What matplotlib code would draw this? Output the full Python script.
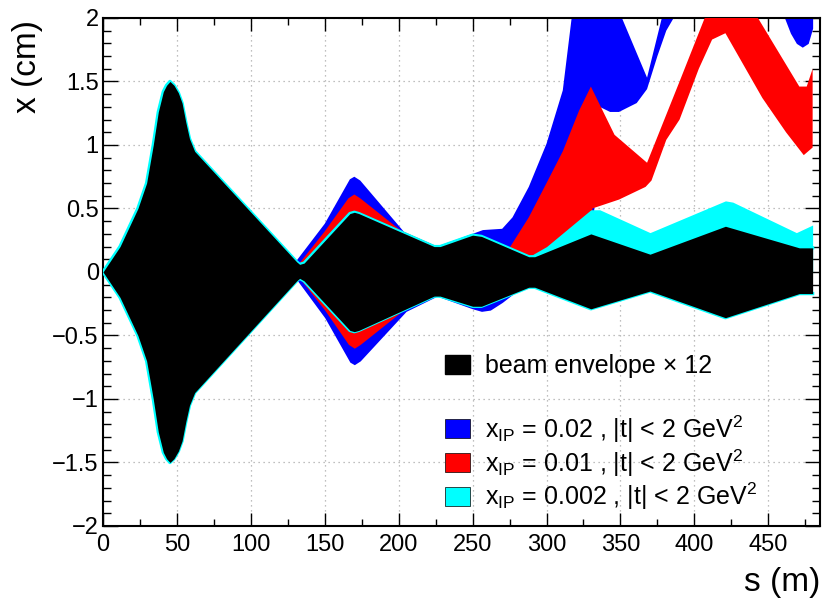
import numpy as np
import matplotlib.pyplot as plt
from matplotlib.patches import Patch
from matplotlib.ticker import MultipleLocator, FuncFormatter

plt.rcParams['font.family'] = ['Liberation Sans', 'DejaVu Sans']
plt.rcParams['mathtext.fontset'] = 'custom'
plt.rcParams['mathtext.rm'] = 'Liberation Sans'
plt.rcParams['mathtext.it'] = 'Liberation Sans:italic'
plt.rcParams['mathtext.bf'] = 'Liberation Sans:bold'

# beam envelope x 12 (black), upper and lower edge on a common s grid (m, cm)
black_s = [0, 11.5, 23.6, 29.5, 34, 37.4, 40.8, 43, 45.3, 48, 51, 53.5, 56, 58.5, 62,
           131, 133, 136, 167, 170, 173, 224, 228, 250, 256, 288, 292, 330, 370, 421, 471, 480]
black_hi = [0, 0.2, 0.5, 0.7, 1.0, 1.26, 1.42, 1.47, 1.5, 1.47, 1.41, 1.33, 1.18, 1.05, 0.95,
            0.08, 0.06, 0.07, 0.46, 0.47, 0.46, 0.2, 0.2, 0.29, 0.28, 0.12, 0.12, 0.3, 0.14, 0.36, 0.19, 0.19]
black_lo = [0, -0.2, -0.5, -0.7, -1.0, -1.26, -1.42, -1.47, -1.5, -1.47, -1.41, -1.33, -1.18, -1.05, -0.95,
            -0.07, -0.05, -0.07, -0.46, -0.47, -0.46, -0.19, -0.19, -0.27, -0.27, -0.12, -0.12, -0.29, -0.15, -0.36, -0.17, -0.17]

# x_IP = 0.002 (cyan), only separates from the envelope above s ~ 290 m
cyan_s = [288, 300, 330, 336, 370, 421, 426, 469, 480]
cyan_hi = [0.12, 0.2, 0.49, 0.49, 0.31, 0.56, 0.55, 0.31, 0.37]

# x_IP = 0.01 (red)
red_hi_s = [133, 150, 166, 170, 174, 201, 226, 250, 256, 275, 288, 300, 311, 322, 330,
            346, 368, 390, 407, 443, 471, 476, 480]
red_hi = [0.07, 0.32, 0.58, 0.61, 0.58, 0.33, 0.2, 0.29, 0.28, 0.19, 0.43, 0.7, 0.95, 1.27, 1.46,
          1.08, 0.86, 1.5, 2.0, 2.0, 1.46, 1.46, 1.6]
red_lo_s = [133, 331, 331, 349, 367, 371, 381, 390, 403, 412, 421, 446, 462, 474, 480]
red_lo = [0, 0, 0.5, 0.57, 0.67, 0.72, 1.04, 1.2, 1.6, 1.83, 1.88, 1.37, 1.1, 0.92, 0.98]
red_bot_s = [133, 150, 166, 170, 174, 201]
red_bot = [-0.05, -0.3, -0.57, -0.6, -0.57, -0.32]

# x_IP = 0.02 (blue)
blue_hi_s = [131, 150, 167, 170, 174, 204, 226, 250, 257, 270, 277, 288, 300, 311, 317,
             351, 368, 378, 386]
blue_hi = [0.09, 0.38, 0.73, 0.75, 0.72, 0.31, 0.2, 0.3, 0.33, 0.34, 0.43, 0.67, 1.01, 1.43, 2.0,
           2.0, 1.53, 2.0, 2.0]
blue_lo_s = [131, 330, 336, 343, 349, 361, 368, 375, 381, 386]
blue_lo = [0, 0, 1.3, 1.26, 1.26, 1.33, 1.44, 1.7, 1.9, 2.0]
blue_bot_s = [131, 150, 167, 170, 174, 205, 226, 250, 256, 262, 270, 280, 290]
blue_bot = [-0.06, -0.36, -0.71, -0.73, -0.7, -0.31, -0.19, -0.29, -0.31, -0.3, -0.24, -0.15, -0.12]
blue2_s = [461, 465, 469, 473, 477, 480]
blue2_lo = [2.0, 1.88, 1.8, 1.77, 1.8, 1.92]

BLUE, RED, CYAN = '#0000ff', '#ff0000', '#00ffff'

fig = plt.figure(figsize=(8.22, 6.03), dpi=100)
ax = fig.add_axes([0.1253, 0.1277, 0.8723, 0.8425])

# blue bands
ax.fill(blue_hi_s + blue_lo_s[::-1], blue_hi + blue_lo[::-1], color=BLUE, lw=0, zorder=2)
ax.fill_between(blue_bot_s, blue_bot, 0, color=BLUE, lw=0, zorder=2)
ax.fill_between(blue2_s, blue2_lo, 2.0, color=BLUE, lw=0, zorder=2)
# red bands
ax.fill(red_hi_s + red_lo_s[::-1], red_hi + red_lo[::-1], color=RED, lw=0, zorder=3)
ax.fill_between(red_bot_s, red_bot, 0, color=RED, lw=0, zorder=3)
# cyan band + outline of the envelope
ax.fill_between(cyan_s, 0, cyan_hi, color=CYAN, lw=0, zorder=4)
ax.plot(black_s, black_hi, color=CYAN, lw=2.4, zorder=5)
ax.plot(black_s, black_lo, color=CYAN, lw=2.4, zorder=5)
# beam envelope
ax.fill_between(black_s, black_lo, black_hi, color='black', lw=0, zorder=6)

ax.set_xlim(0, 485)
ax.set_ylim(-2, 2)
ax.xaxis.set_major_locator(MultipleLocator(50))
ax.xaxis.set_minor_locator(MultipleLocator(25))
ax.yaxis.set_major_locator(MultipleLocator(0.5))
ax.yaxis.set_minor_locator(MultipleLocator(0.1))
ax.yaxis.set_major_formatter(FuncFormatter(lambda v, p: ('%g' % (round(v, 3) + 0.0)).replace('-', '\u2212')))
ax.tick_params(which='both', direction='in', top=True, right=True, width=1, colors='black')
ax.tick_params(axis='x', which='major', length=9.5, pad=6, labelsize=17)
ax.tick_params(axis='x', which='minor', length=5)
ax.tick_params(axis='y', which='major', length=10.5, pad=3, labelsize=17)
ax.tick_params(axis='y', which='minor', length=5.5)
for sp in ax.spines.values():
    sp.set_linewidth(1.5)
ax.set_axisbelow(True)
ax.grid(True, which='major', color='#aaaaaa', linestyle=(0, (1, 3)), lw=0.9)

ax.set_xlabel('s (m)', fontsize=24, loc='right')
ax.xaxis.set_label_coords(1.0, -0.081)
ax.set_ylabel('x (cm)', fontsize=24, loc='top')
ax.yaxis.set_label_coords(-0.084, 0.996)

leg_kw = dict(loc='upper left', frameon=False, fontsize=18, handlelength=1.0, handleheight=0.79,
              handletextpad=0.6, borderpad=0, borderaxespad=0)
leg1 = ax.legend([Patch(facecolor='black', edgecolor='black')], ['beam envelope \u00d7 12'],
                 bbox_to_anchor=(0.477, 0.339), **leg_kw)
ax.add_artist(leg1)
ax.legend([Patch(facecolor=BLUE, edgecolor='black', lw=0.5),
           Patch(facecolor=RED, edgecolor='black', lw=0.5),
           Patch(facecolor=CYAN, edgecolor='black', lw=0.5)],
          [r'x$_{\mathrm{IP}}$ = 0.02 , |t| < 2 GeV$^{2}$',
           r'x$_{\mathrm{IP}}$ = 0.01 , |t| < 2 GeV$^{2}$',
           r'x$_{\mathrm{IP}}$ = 0.002 , |t| < 2 GeV$^{2}$'],
          bbox_to_anchor=(0.477, 0.222), labelspacing=0.1, **leg_kw)

fig.savefig('out.png', dpi=100)
